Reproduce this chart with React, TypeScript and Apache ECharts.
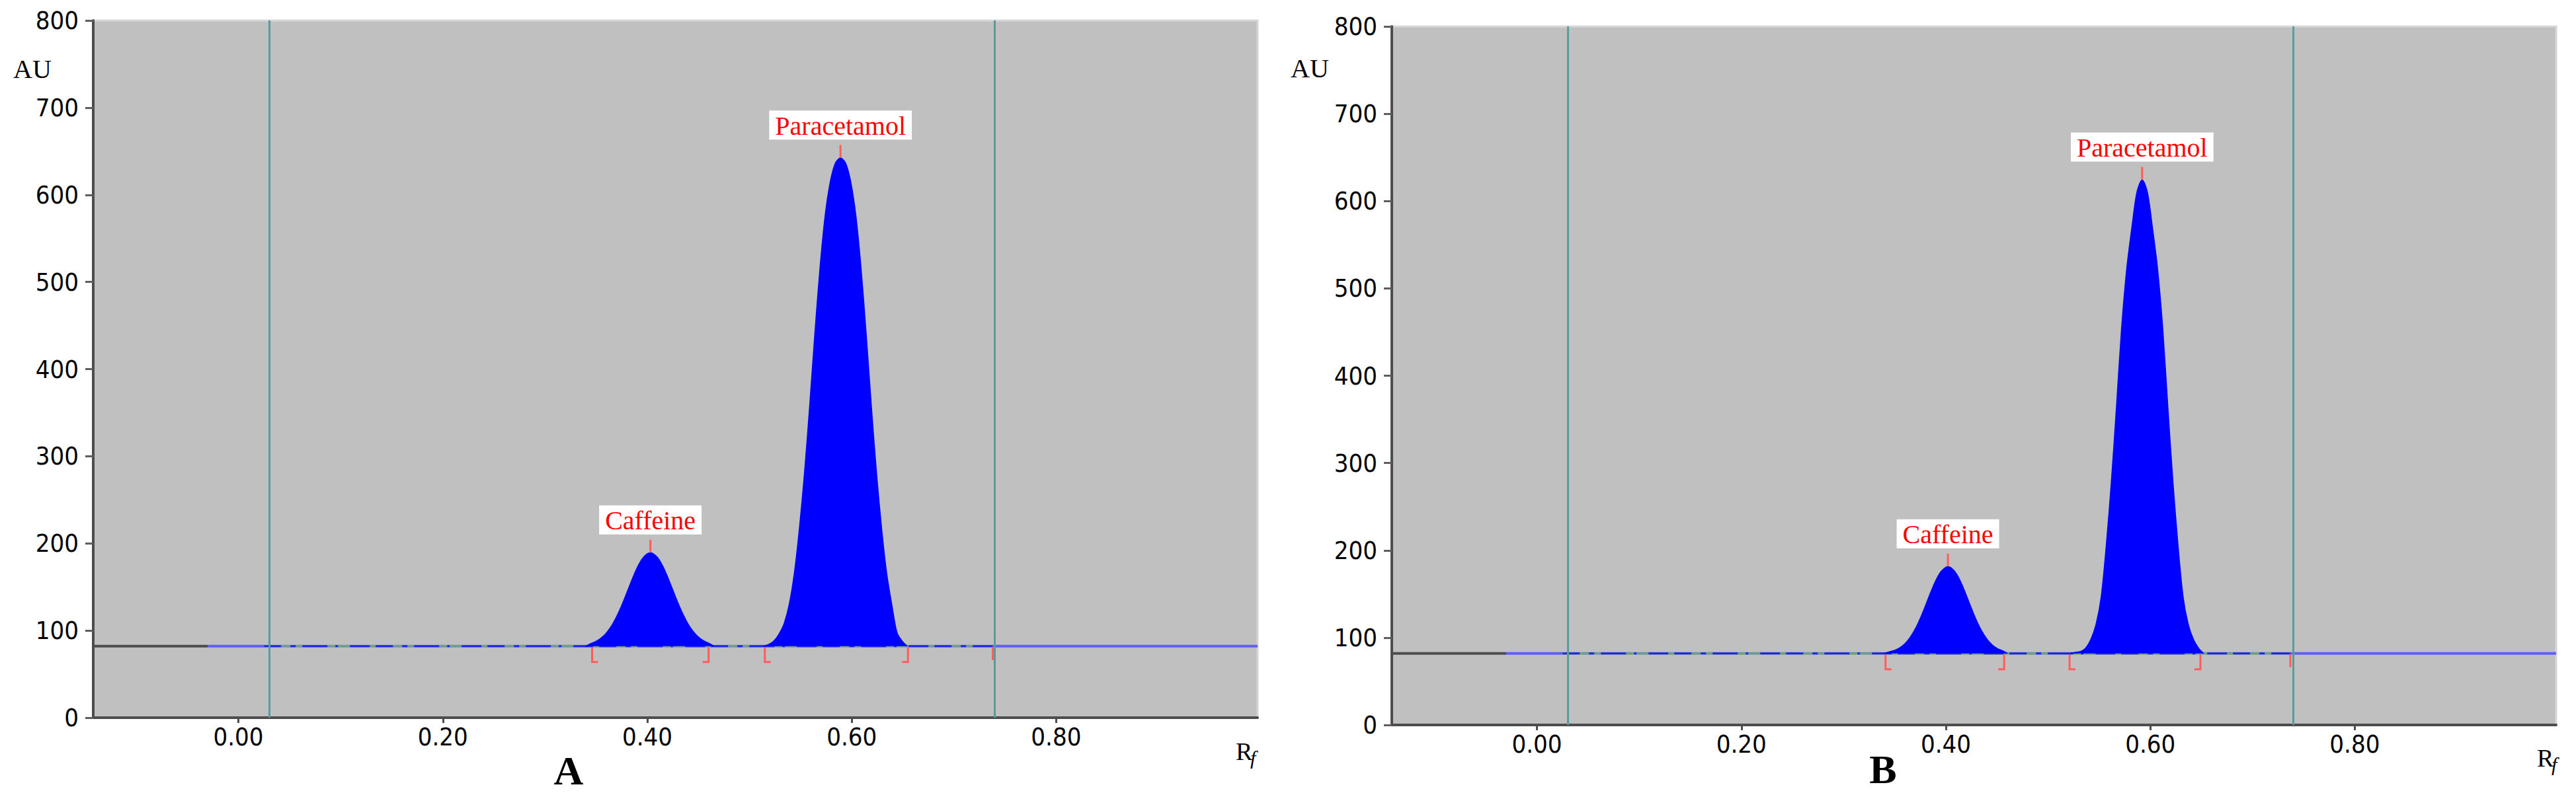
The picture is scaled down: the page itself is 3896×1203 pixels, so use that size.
import React, { useEffect, useRef } from "react";
import * as echarts from "echarts";

// ---------- axes ----------
const RF_MIN = -0.142;
const RF_MAX = 0.997;
const AU_MIN = 0;
const AU_MAX = 800;
const AU_STEP = 100;
const xTickValues = [0, 0.2, 0.4, 0.6, 0.8];
const BASELINE_AU = 82;
const panelLetters = ["A", "B"];
const peakNames = ["Caffeine", "Paracetamol"];

// baseline colour segments (Rf): dark part, blue lead-in
const leadDarkEnd = -0.03;

// ---------- panel A ----------
const caffeineA_rf = [0.34, 0.345, 0.35, 0.355, 0.36, 0.365, 0.37, 0.375, 0.38, 0.385, 0.39, 0.395, 0.4, 0.403, 0.405, 0.41, 0.415, 0.42, 0.425, 0.43, 0.435, 0.44, 0.445, 0.45, 0.455, 0.46, 0.465];
const caffeineA_au = [82, 85, 87.4, 91.3, 97, 105, 115.7, 128.5, 143, 157.9, 171.5, 182, 188, 189, 188.6, 183.6, 173.8, 160.7, 146, 131.3, 118.1, 107, 98.5, 92.3, 88.1, 85.4, 82];
const paracetamolA_rf = [0.514, 0.519, 0.524, 0.529, 0.534, 0.539, 0.544, 0.549, 0.554, 0.559, 0.564, 0.569, 0.574, 0.579, 0.584, 0.589, 0.594, 0.599, 0.604, 0.609, 0.614, 0.619, 0.624, 0.629, 0.634, 0.639, 0.644, 0.649, 0.654];
const paracetamolA_au = [82, 84, 88, 96, 108, 130, 166, 218, 282, 358, 440, 515, 575, 614, 636, 642, 636, 614, 575, 515, 440, 358, 282, 218, 166, 130, 98, 88, 82];
const windowA = [0.025, 0.738];
const bracketsA_rf = [0.346, 0.46, 0.515, 0.655, 0.738];
const peaksA_rf = [0.403, 0.589];
const peaksA_au = [189, 642];

// ---------- panel B ----------
const caffeineB_rf = [0.34, 0.345, 0.35, 0.355, 0.36, 0.365, 0.37, 0.375, 0.38, 0.385, 0.39, 0.395, 0.4, 0.402, 0.405, 0.41, 0.415, 0.42, 0.425, 0.43, 0.435, 0.44, 0.445, 0.45, 0.455, 0.46];
const caffeineB_au = [82, 83.7, 85.4, 88.3, 92.9, 99.9, 109.5, 121.8, 136.1, 151, 164.7, 175.2, 180.5, 181, 179.9, 173.4, 162.2, 148, 133.1, 119.1, 107.4, 98.3, 91.8, 87.6, 85, 82];
const paracetamolB_rf = [0.522, 0.527, 0.532, 0.537, 0.542, 0.547, 0.552, 0.557, 0.562, 0.567, 0.572, 0.577, 0.582, 0.587, 0.592, 0.597, 0.602, 0.607, 0.612, 0.617, 0.622, 0.627, 0.632, 0.637, 0.642, 0.647, 0.652];
const paracetamolB_au = [82, 83, 84, 88, 98, 115, 146, 205, 278, 364, 454, 522, 569, 610, 624, 610, 569, 522, 454, 364, 278, 205, 146, 115, 98, 88, 82];
const windowB = [0.025, 0.737];
const bracketsB_rf = [0.341, 0.457, 0.521, 0.649, 0.737];
const peaksB_rf = [0.402, 0.592];
const peaksB_au = [181, 624];

// bracket kinds: 0 = start "[", 1 = end "]", 2 = window mark
const bracketKinds = [0, 1, 0, 1, 2];

const panels = [
  {
    peaks: [
      [caffeineA_rf, caffeineA_au],
      [paracetamolA_rf, paracetamolA_au],
    ],
    window: windowA,
    brackets: bracketsA_rf,
    peakRf: peaksA_rf,
    peakAu: peaksA_au,
  },
  {
    peaks: [
      [caffeineB_rf, caffeineB_au],
      [paracetamolB_rf, paracetamolB_au],
    ],
    window: windowB,
    brackets: bracketsB_rf,
    peakRf: peaksB_rf,
    peakAu: peaksB_au,
  },
];

const grids = [
  { left: 141, top: 31, width: 1761, height: 1055 },
  { left: 2105, top: 40, width: 1761, height: 1057 },
];

const TICK_FONT = "'Liberation Sans Narrow', 'DejaVu Sans Condensed', 'Liberation Sans', sans-serif";
const SERIF = "'Liberation Serif', 'DejaVu Serif', serif";

const zip = (a: number[], b: number[]) => a.map((v, i) => [v, b[i]]);

function buildOption() {
  const series: any[] = [];
  panels.forEach((p, i) => {
    const common = { xAxisIndex: i, yAxisIndex: i, showSymbol: false, silent: true, animation: false };
    series.push({
      ...common,
      type: "line",
      data: [[RF_MIN, BASELINE_AU], [leadDarkEnd, BASELINE_AU]],
      lineStyle: { color: "#4d4d4d", width: 4 },
      z: 2,
    });
    series.push({
      ...common,
      type: "line",
      data: [[leadDarkEnd, BASELINE_AU], [p.window[0], BASELINE_AU]],
      lineStyle: { color: "#5f5ff2", width: 4 },
      z: 2,
    });
    series.push({
      ...common,
      type: "line",
      data: [[p.window[1], BASELINE_AU], [RF_MAX, BASELINE_AU]],
      lineStyle: { color: "#5f5ff2", width: 4 },
      z: 2,
    });
    series.push({
      ...common,
      type: "line",
      data: [[p.window[0], BASELINE_AU], [p.window[1], BASELINE_AU]],
      lineStyle: { color: "#6f9c98", width: 4 },
      z: 2,
      markLine: {
        silent: true,
        symbol: "none",
        label: { show: false },
        lineStyle: { color: "#5a9c9b", width: 3, type: "solid" },
        data: p.window.map((v) => ({ xAxis: v })),
      },
    });
    series.push({
      ...common,
      type: "line",
      data: [[p.window[0], BASELINE_AU], [p.window[1], BASELINE_AU]],
      lineStyle: { color: "#2323ee", width: 3, type: [26, 14, 8, 10, 38, 12, 4, 18, 30, 9] },
      z: 3,
    });
    p.peaks.forEach(([rf, au]) => {
      series.push({
        ...common,
        type: "line",
        smooth: 0.3,
        data: zip(rf, au),
        lineStyle: { color: "#0000ff", width: 2 },
        areaStyle: { color: "#0000ff", opacity: 1, origin: BASELINE_AU },
        z: 4,
      });
    });
    series.push({
      type: "custom",
      xAxisIndex: i,
      yAxisIndex: i,
      silent: true,
      z: 5,
      encode: { x: 0, y: 1 },
      data: p.brackets.map((v, k) => [v, BASELINE_AU, bracketKinds[k]]),
      renderItem: (_params: any, api: any) => {
        const pt = api.coord([api.value(0), api.value(1)]);
        const kind = api.value(2);
        const x = pt[0];
        const y = pt[1];
        let pts: number[][];
        if (kind === 0) pts = [[x, y + 2], [x, y + 24], [x + 9, y + 24]];
        else if (kind === 1) pts = [[x, y + 2], [x, y + 24], [x - 9, y + 24]];
        else pts = [[x, y + 1], [x, y + 21]];
        return {
          type: "polyline",
          shape: { points: pts },
          style: { stroke: "#ff5c5c", lineWidth: 3, fill: null },
        };
      },
    });
    series.push({
      type: "custom",
      xAxisIndex: i,
      yAxisIndex: i,
      silent: true,
      z: 6,
      encode: { x: 0, y: 1 },
      data: p.peakRf.map((v, k) => [v, p.peakAu[k], k]),
      renderItem: (_params: any, api: any) => {
        const pt = api.coord([api.value(0), api.value(1)]);
        const name = peakNames[api.value(2)];
        return {
          type: "group",
          children: [
            {
              type: "line",
              shape: { x1: pt[0], y1: pt[1] - 1, x2: pt[0], y2: pt[1] - 20 },
              style: { stroke: "#ff5c5c", lineWidth: 3 },
            },
            {
              type: "text",
              x: pt[0],
              y: pt[1] - 28,
              style: {
                text: name,
                fill: "#ff0000",
                font: `40px ${SERIF}`,
                align: "center",
                verticalAlign: "bottom",
                textAlign: "center",
                textVerticalAlign: "bottom",
                backgroundColor: "#ffffff",
                padding: [3, 9, 1, 9],
              },
            },
          ],
        };
      },
    });
  });

  const xAxis = grids.map((_, i) => ({
    type: "value",
    gridIndex: i,
    min: RF_MIN,
    max: RF_MAX,
    splitLine: { show: false },
    axisLine: { show: true, onZero: false, lineStyle: { color: "#4d4d4d", width: 4 } },
    axisTick: { show: true, customValues: xTickValues, length: 8, lineStyle: { color: "#4d4d4d", width: 3 } },
    axisLabel: {
      show: true,
      customValues: xTickValues,
      formatter: (v: number) => v.toFixed(2),
      color: "#000",
      fontSize: 38,
      fontFamily: TICK_FONT,
      margin: 10,
    },
  }));

  const yAxis = grids.map((_, i) => ({
    type: "value",
    gridIndex: i,
    min: AU_MIN,
    max: AU_MAX,
    interval: AU_STEP,
    splitLine: { show: false },
    axisLine: { show: true, onZero: false, lineStyle: { color: "#4d4d4d", width: 4 } },
    axisTick: { show: true, length: 12, lineStyle: { color: "#5e5e5e", width: 3 } },
    axisLabel: {
      show: true,
      color: "#000",
      fontSize: 38,
      fontFamily: TICK_FONT,
      margin: 22,
      padding: [14, 0, 0, 0],
    },
  }));

  const txt = (text: string, x: number, y: number, font: string, align = "left") => ({
    type: "text",
    x,
    y,
    silent: true,
    style: { text, x: 0, y: 0, font, fill: "#000", align, verticalAlign: "middle", textAlign: align, textVerticalAlign: "middle" },
  });

  const graphic = [
    txt("AU", 20, 104, `40px ${SERIF}`),
    txt("AU", 1952, 103, `40px ${SERIF}`),
    txt("R", 1869, 1137, `38px ${SERIF}`),
    txt("f", 1891, 1146, `italic 30px ${SERIF}`),
    txt("R", 3837, 1147, `38px ${SERIF}`),
    txt("f", 3859, 1156, `italic 30px ${SERIF}`),
    txt(panelLetters[0], 860, 1166, `bold 62px ${SERIF}`, "center"),
    txt(panelLetters[1], 2848, 1164, `bold 62px ${SERIF}`, "center"),
  ];

  return {
    animation: false,
    backgroundColor: "#ffffff",
    grid: grids.map((g) => ({
      ...g,
      show: true,
      backgroundColor: "#c0c0c0",
      borderColor: "#d6d6d6",
      borderWidth: 3,
    })),
    xAxis,
    yAxis,
    series,
    graphic,
  };
}

export default function App() {
  const ref = useRef<HTMLDivElement>(null);
  useEffect(() => {
    if (!ref.current) return;
    const chart = echarts.init(ref.current, null, { renderer: "svg" });
    chart.setOption(buildOption() as any);
    return () => chart.dispose();
  }, []);
  return (
    <div
      ref={ref}
      style={{ position: "absolute", left: 0, top: 0, width: 3896, height: 1203, background: "#fff" }}
    />
  );
}
